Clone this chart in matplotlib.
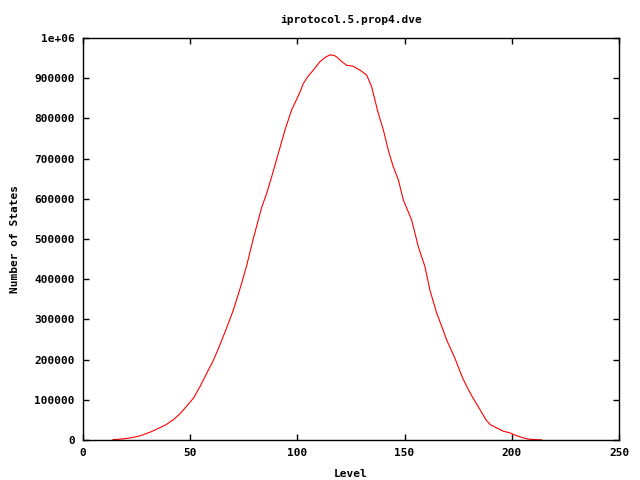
import matplotlib
matplotlib.use('Agg')
import matplotlib.pyplot as plt
from matplotlib.font_manager import FontProperties

# level vs number of states
levels = [14, 16, 19, 23, 27, 32, 36, 39, 42, 45, 48, 51.5, 54.6, 57.7, 60.8, 63.5,
          66.2, 68, 70.1, 72, 74, 76.3, 79.4, 81.5, 83.3, 85.7, 88, 91.1, 94.2, 97.3,
          99.7, 101.2, 102.8, 105, 107.4, 110.5, 113, 115.2, 117, 118.3, 121, 123, 126,
          129.2, 132.3, 134.6, 137.7, 140.1, 142.4, 144.7, 147.1, 149.4, 153.3,
          156.4, 159.5, 161.8, 165, 167.5, 169.6, 173.5, 177, 179, 181.5, 184, 186,
          188, 190, 193, 196, 199, 202, 205, 208, 211, 214]
states = [1000, 1500, 3000, 6000, 11000, 21000, 31000, 39000, 50000, 64000, 82000,
          104000, 133000, 166000, 198000, 232000, 268000, 293000, 323000, 355000,
          390000, 433000, 500000, 542000, 578000, 614000, 655000, 713000, 771000,
          821000, 848000, 866000, 887000, 905000, 920000, 941000, 952000, 958000,
          957000, 953000, 940000, 932000, 930000, 920000, 908000, 879000, 813000,
          771000, 721000, 680000, 647000, 597000, 547000, 481000, 431000, 373000,
          315000, 280000, 249000, 203000, 155000, 133000, 108000, 86000, 68000,
          50000, 38000, 30000, 22000, 18000, 11000, 6000, 2000, 800, 300]

fig = plt.figure(figsize=(6.4, 4.8), dpi=100)
ax = fig.add_axes([83 / 640, 40 / 480, 536 / 640, 402 / 480])
ax.plot(levels, states, color='#ff0000', linewidth=0.8)

ax.set_xlim(0, 250)
ax.set_ylim(0, 1e6)
ax.set_xticks(range(0, 251, 50))
yt = list(range(0, 1000001, 100000))
ax.set_yticks(yt)
ax.set_yticklabels([str(v) for v in yt[:-1]] + ['1e+06'])

font = dict(family='DejaVu Sans Mono', weight='bold', size=8)
for lab in ax.get_xticklabels() + ax.get_yticklabels():
    lab.set_fontproperties(FontProperties(**font))
ax.tick_params(direction='in', length=4, width=1, top=True, right=True, pad=6)
for s in ax.spines.values():
    s.set_linewidth(1)

ax.set_xlabel('Level', fontdict=font, labelpad=8)
ax.set_ylabel('Number of States', fontdict=font, labelpad=10)
ax.set_title('iprotocol.5.prop4.dve', fontdict=font, pad=11)

fig.savefig('out.png', dpi=100)
